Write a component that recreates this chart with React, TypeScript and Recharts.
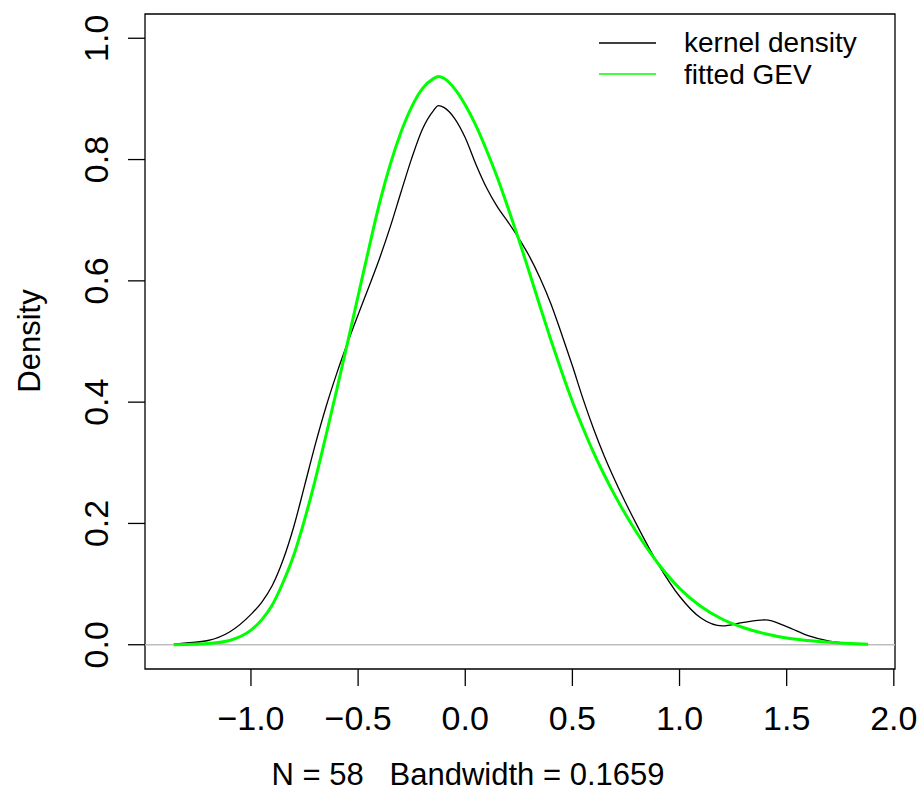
import React from 'react';
import { LineChart, Line, XAxis, YAxis, ReferenceLine, ReferenceArea, Legend } from 'recharts';

// x grid shared by both curves
const X_VALUES = [
  -1.36, -1.3, -1.2, -1.1, -1.0, -0.95, -0.9, -0.85, -0.8, -0.75, -0.7, -0.65, -0.6, -0.55, -0.5,
  -0.45, -0.4, -0.35, -0.3, -0.25, -0.2, -0.15, -0.125, -0.1, -0.05, 0.0, 0.05, 0.1, 0.15, 0.2,
  0.25, 0.3, 0.35, 0.4, 0.45, 0.5, 0.55, 0.6, 0.65, 0.7, 0.8, 0.9, 1.0, 1.1, 1.2, 1.3, 1.4, 1.5,
  1.6, 1.7, 1.8, 1.88,
];

const KERNEL_VALUES = [
  0.001, 0.003, 0.007, 0.021, 0.05, 0.07, 0.098, 0.14, 0.195, 0.262, 0.33, 0.392, 0.447, 0.497, 0.544,
  0.59, 0.637, 0.689, 0.746, 0.802, 0.85, 0.88, 0.889, 0.886, 0.868, 0.836, 0.792, 0.753, 0.722, 0.697,
  0.67, 0.64, 0.604, 0.562, 0.512, 0.46, 0.405, 0.355, 0.31, 0.27, 0.198, 0.133, 0.08, 0.044, 0.031,
  0.037, 0.041, 0.03, 0.015, 0.006, 0.002, 0.001,
];

const GEV_VALUES = [
  0.0, 0.0005, 0.002, 0.007, 0.024, 0.041, 0.066, 0.103, 0.148, 0.206, 0.272, 0.345, 0.42, 0.497, 0.575,
  0.653, 0.728, 0.792, 0.845, 0.887, 0.917, 0.933, 0.937, 0.934, 0.917, 0.89, 0.856, 0.815, 0.77, 0.72,
  0.668, 0.613, 0.557, 0.502, 0.45, 0.401, 0.357, 0.316, 0.279, 0.245, 0.185, 0.134, 0.093, 0.063, 0.042,
  0.028, 0.018, 0.011, 0.007, 0.004, 0.002, 0.001,
];

const X_TICKS = [-1.0, -0.5, 0.0, 0.5, 1.0, 1.5, 2.0];
const X_TICK_LABELS = ['\u22121.0', '\u22120.5', '0.0', '0.5', '1.0', '1.5', '2.0'];
const Y_TICKS = [0.0, 0.2, 0.4, 0.6, 0.8, 1.0];
const Y_TICK_LABELS = ['0.0', '0.2', '0.4', '0.6', '0.8', '1.0'];

const X_TITLE = 'N = 58   Bandwidth = 0.1659';
const Y_TITLE = 'Density';
const SERIES_NAMES = ['kernel density', 'fitted GEV'];

const X_DOMAIN: [number, number] = [-1.4945, 2.0055];
const Y_DOMAIN: [number, number] = [-0.04, 1.04];

const FONT = '"Liberation Sans", Arial, Helvetica, sans-serif';

const data = X_VALUES.map((x, i) => ({ x, kernel: KERNEL_VALUES[i], gev: GEV_VALUES[i] }));

const XTick = ({ x, y, payload }: any) => {
  const idx = X_TICKS.indexOf(payload.value);
  return (
    <g>
      <line x1={x} x2={x} y1={y} y2={y + 17} stroke="#000" strokeWidth={1.3} />
      <text x={x} y={y + 61} textAnchor="middle" fontSize={34} fontFamily={FONT} fill="#000">
        {X_TICK_LABELS[idx]}
      </text>
    </g>
  );
};

const YTick = ({ x, y, payload }: any) => {
  const idx = Y_TICKS.indexOf(payload.value);
  const tx = x - 37;
  return (
    <g>
      <line x1={x - 17} x2={x} y1={y} y2={y} stroke="#000" strokeWidth={1.3} />
      <text
        x={tx}
        y={y}
        transform={`rotate(-90, ${tx}, ${y})`}
        textAnchor="middle"
        fontSize={34}
        fontFamily={FONT}
        fill="#000"
      >
        {Y_TICK_LABELS[idx]}
      </text>
    </g>
  );
};

const renderLegend = ({ payload }: any) => {
  const items = [...(payload || [])].sort(
    (a: any, b: any) => SERIES_NAMES.indexOf(a.value) - SERIES_NAMES.indexOf(b.value),
  );
  return (
    <div style={{ fontFamily: FONT, fontSize: 28, color: '#000' }}>
      {items.map((entry: any) => (
        <div key={entry.value} style={{ display: 'flex', alignItems: 'center', height: 31.6, whiteSpace: 'nowrap' }}>
          <svg width={57} height={4} style={{ display: 'block' }}>
            <line x1={0} x2={57} y1={2} y2={2} stroke={entry.color} strokeWidth={1.5} />
          </svg>
          <span style={{ marginLeft: 28, lineHeight: '31.6px' }}>{entry.value}</span>
        </div>
      ))}
    </div>
  );
};

export default function App() {
  return (
    <div style={{ position: 'absolute', left: 0, top: 0, background: '#fff' }}>
      <LineChart width={922} height={791} data={data} margin={{ top: 14, right: 27, bottom: 0, left: 0 }}>
        <XAxis
          dataKey="x"
          type="number"
          domain={X_DOMAIN}
          allowDataOverflow
          ticks={X_TICKS}
          interval={0}
          height={122}
          axisLine={false}
          tickLine={false}
          tickSize={0}
          tickMargin={0}
          tick={<XTick />}
          label={{
            content: () => (
              <text
                x={468}
                y={785}
                textAnchor="middle"
                fontSize={31}
                fontFamily={FONT}
                fill="#000"
                style={{ whiteSpace: 'pre' }}
              >
                {X_TITLE}
              </text>
            ),
          }}
        />
        <YAxis
          type="number"
          domain={Y_DOMAIN}
          allowDataOverflow
          ticks={Y_TICKS}
          interval={0}
          width={145}
          axisLine={false}
          tickLine={false}
          tickSize={0}
          tickMargin={0}
          tick={<YTick />}
          label={{
            content: () => (
              <text
                x={40}
                y={341}
                transform="rotate(-90, 40, 341)"
                textAnchor="middle"
                fontSize={31}
                fontFamily={FONT}
                fill="#000"
              >
                {Y_TITLE}
              </text>
            ),
          }}
        />
        <ReferenceLine y={0} stroke="#BEBEBE" strokeWidth={1.3} />
        <ReferenceArea
          x1={X_DOMAIN[0]}
          x2={X_DOMAIN[1]}
          y1={Y_DOMAIN[0]}
          y2={Y_DOMAIN[1]}
          fill="none"
          stroke="#000"
          strokeWidth={1.3}
          ifOverflow="visible"
        />
        <Legend
          layout="vertical"
          align="center"
          verticalAlign="middle"
          content={renderLegend}
          wrapperStyle={{ left: 599, top: 27, width: 'auto', height: 'auto' }}
        />
        <Line
          type="monotone"
          dataKey="kernel"
          name={SERIES_NAMES[0]}
          stroke="#000000"
          strokeWidth={1.3}
          dot={false}
          isAnimationActive={false}
        />
        <Line
          type="monotone"
          dataKey="gev"
          name={SERIES_NAMES[1]}
          stroke="#00FF00"
          strokeWidth={3}
          dot={false}
          isAnimationActive={false}
        />
      </LineChart>
    </div>
  );
}
